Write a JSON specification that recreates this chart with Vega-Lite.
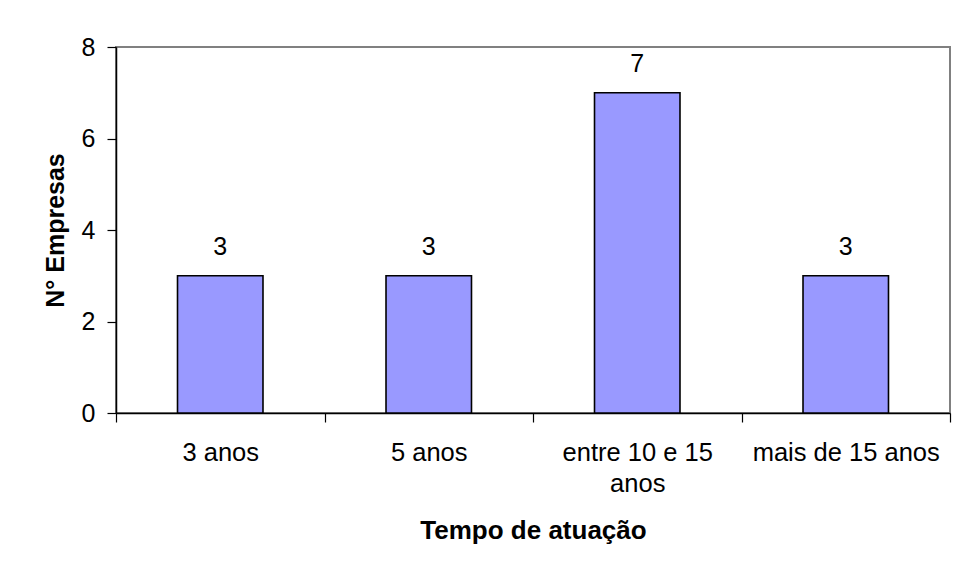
{
  "$schema": "https://vega.github.io/schema/vega-lite/v6.json",
  "autosize": {"type": "none"},
  "padding": {"left": 116, "top": 47, "right": 9, "bottom": 161},
  "width": 834,
  "height": 366,
  "background": "white",
  "config": {
    "font": "Liberation Sans",
    "view": {"stroke": "#808080", "strokeWidth": 2},
    "axis": {"labelColor": "black", "titleColor": "black", "labelFont": "Liberation Sans", "titleFont": "Liberation Sans"}
  },
  "data": {
    "values": [
      {"tempo": "3 anos", "empresas": 3},
      {"tempo": "5 anos", "empresas": 3},
      {"tempo": "entre 10 e 15 anos", "empresas": 7},
      {"tempo": "mais de 15 anos", "empresas": 3}
    ]
  },
  "encoding": {
    "x": {
      "field": "tempo",
      "type": "nominal",
      "sort": null,
      "scale": {"paddingInner": 0, "paddingOuter": 0},
      "axis": {
        "title": "Tempo de atuação",
        "labelAngle": 0,
        "labelFontSize": 25.5,
        "labelLimit": 0,
        "labelPadding": 18,
        "labelLineHeight": 31,
        "labelExpr": "datum.label == 'entre 10 e 15 anos' ? ['entre 10 e 15', 'anos'] : datum.label",
        "tickBand": "extent",
        "tickSize": 9,
        "tickColor": "black",
        "domainColor": "black",
        "domainWidth": 1.5,
        "tickWidth": 1.2,
        "titleFontSize": 26,
        "titleFontWeight": "bold",
        "titlePadding": 21,
        "grid": false
      }
    },
    "y": {
      "field": "empresas",
      "type": "quantitative",
      "scale": {"domain": [0, 8]},
      "axis": {
        "title": "N° Empresas",
        "values": [0, 2, 4, 6, 8],
        "labelFontSize": 25,
        "labelPadding": 12,
        "tickSize": 9,
        "tickColor": "black",
        "domainColor": "black",
        "domainWidth": 1.5,
        "tickWidth": 1.2,
        "titleFontSize": 25,
        "titleFontWeight": "bold",
        "titlePadding": 13,
        "grid": false
      }
    }
  },
  "layer": [
    {
      "mark": {"type": "bar", "width": {"band": 0.41}, "fill": "#9999FF", "stroke": "black", "strokeWidth": 1.6}
    },
    {
      "mark": {"type": "text", "baseline": "alphabetic", "dy": -21, "fontSize": 25, "color": "black"},
      "encoding": {"text": {"field": "empresas", "type": "quantitative"}}
    }
  ]
}
